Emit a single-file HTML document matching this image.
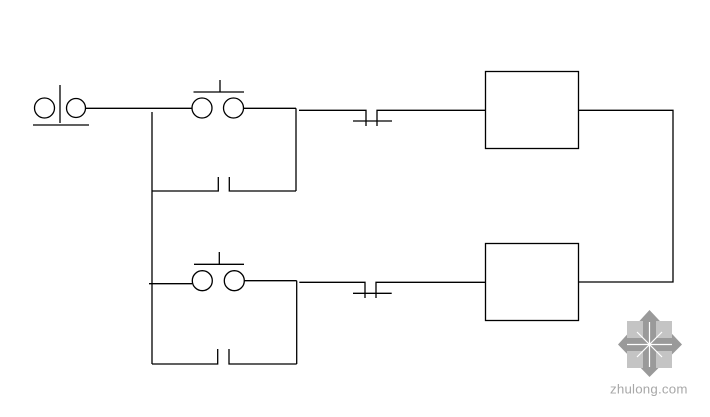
<!DOCTYPE html>
<html>
<head>
<meta charset="utf-8">
<style>
html,body{margin:0;padding:0;background:#fff;}
svg{display:block;}
</style>
</head>
<body>
<svg width="710" height="417" viewBox="0 0 710 417" xmlns="http://www.w3.org/2000/svg">
<rect width="710" height="417" fill="#fff"/>
<g fill="none" stroke="#000" stroke-width="1.3">
  <!-- left source symbol -->
  <circle cx="44.5" cy="108" r="10"/>
  <circle cx="76" cy="108" r="9.5"/>
  <line x1="60" y1="85" x2="60" y2="123"/>
  <line x1="33" y1="125" x2="89" y2="125"/>
  <line x1="86" y1="108.3" x2="192" y2="108.3"/>

  <!-- top pushbutton -->
  <circle cx="202" cy="108" r="10"/>
  <circle cx="233.5" cy="108" r="10"/>
  <line x1="193.5" y1="92" x2="244" y2="92"/>
  <line x1="220" y1="80" x2="220" y2="92"/>
  <line x1="243.5" y1="108.3" x2="296" y2="108.3"/>
  <line x1="296" y1="108.3" x2="296" y2="191"/>

  <!-- left bus -->
  <line x1="152" y1="112" x2="152" y2="364"/>

  <!-- top hold contact -->
  <polyline points="152,191 218.3,191 218.3,177"/>
  <polyline points="229.3,177 229.3,191 296,191"/>

  <!-- top contact to box -->
  <polyline points="299,110.3 366,110.3 366,126"/>
  <line x1="353" y1="121" x2="392" y2="121"/>
  <polyline points="377,126 377,110.3 485,110.3"/>

  <!-- top box -->
  <rect x="485.5" y="71.5" width="93" height="77"/>
  <polyline points="578.5,110.3 673,110.3 673,282 578.5,282"/>

  <!-- bottom pushbutton -->
  <line x1="149" y1="283.7" x2="192" y2="283.7"/>
  <circle cx="202.3" cy="280.7" r="10"/>
  <circle cx="234.3" cy="280.7" r="10"/>
  <line x1="194" y1="264.3" x2="244" y2="264.3"/>
  <line x1="219.3" y1="252" x2="219.3" y2="264.3"/>
  <line x1="244.3" y1="280.7" x2="296.7" y2="280.7"/>
  <line x1="296.7" y1="280.7" x2="296.7" y2="364"/>

  <!-- bottom hold contact -->
  <polyline points="152,364 217.7,364 217.7,349"/>
  <polyline points="229,349 229,364 296.7,364"/>

  <!-- bottom contact to box -->
  <polyline points="299.3,282.3 365,282.3 365,298"/>
  <line x1="353" y1="293.3" x2="391.7" y2="293.3"/>
  <polyline points="376,298 376,282.3 485,282.3"/>

  <!-- bottom box -->
  <rect x="485.5" y="243.5" width="93" height="77"/>
</g>

<!-- watermark logo -->
<g>
  <polygon points="649.5,310 682,344.5 649.5,377 618,344.5" fill="#9a9a9a"/>
  <rect x="627" y="321" width="16" height="17" fill="#c4c4c4"/>
  <rect x="656" y="321" width="16" height="17" fill="#c4c4c4"/>
  <rect x="627" y="351" width="16" height="17" fill="#c4c4c4"/>
  <rect x="656" y="351" width="16" height="17" fill="#c4c4c4"/>
  <g stroke="#fff" stroke-width="1.2">
    <line x1="649.5" y1="322" x2="649.5" y2="367"/>
    <line x1="627" y1="344.5" x2="672" y2="344.5"/>
    <line x1="637" y1="332" x2="662" y2="357"/>
    <line x1="662" y1="332" x2="637" y2="357"/>
  </g>
  <text x="610" y="393.5" font-family="Liberation Sans, sans-serif" font-size="13.3" fill="#a8a8a8" letter-spacing="0.2">zhulong.com</text>
</g>
</svg>
</body>
</html>
